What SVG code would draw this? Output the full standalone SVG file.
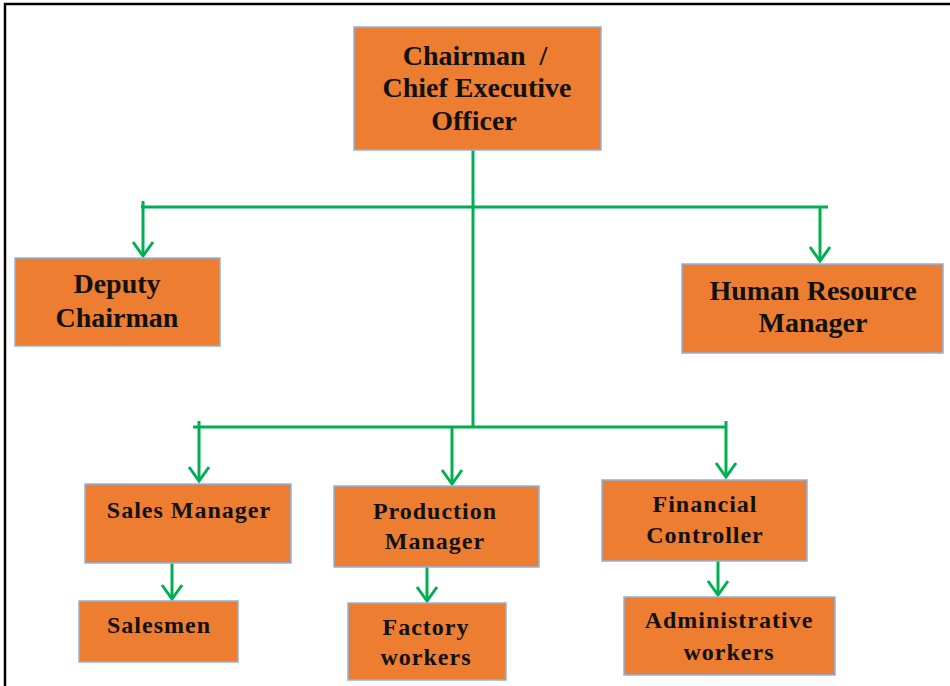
<svg xmlns="http://www.w3.org/2000/svg" width="950" height="686" viewBox="0 0 950 686">
  <style>
    .box { fill: #ED7D31; stroke: #8DB3E2; stroke-width: 1.5; }
    .lbl { font-family: "Liberation Serif", "Times New Roman", serif; font-weight: bold; fill: #111; text-anchor: middle; }
    .big { font-size: 28px; }
    .small { font-size: 24px; letter-spacing: 1px; }
    .wire { fill: none; stroke: #00B050; stroke-width: 3; }
    .frame { fill: none; stroke: #000; stroke-width: 2.5; }
  </style>
  <defs>
    <marker id="chev" markerUnits="userSpaceOnUse" markerWidth="30" markerHeight="30" viewBox="-20 -15 25 30" refX="0" refY="0" orient="auto">
      <path d="M-14,-10 L0,0 L-14,10" fill="none" stroke="#00B050" stroke-width="3"/>
    </marker>
  </defs>

  <!-- page frame -->
  <path class="frame" d="M5,686 V4 H950"/>

  <!-- connectors -->
  <g id="connectors">
    <path class="wire" d="M473,150 V428"/>
    <path class="wire" d="M141,207 H828"/>
    <path class="wire" d="M143,201 V256" marker-end="url(#chev)"/>
    <path class="wire" d="M820,207 V261" marker-end="url(#chev)"/>
    <path class="wire" d="M193,427 H727"/>
    <path class="wire" d="M199,421 V481" marker-end="url(#chev)"/>
    <path class="wire" d="M452,427 V484" marker-end="url(#chev)"/>
    <path class="wire" d="M726,421 V477" marker-end="url(#chev)"/>
    <path class="wire" d="M172,563 V599" marker-end="url(#chev)"/>
    <path class="wire" d="M427,567 V601" marker-end="url(#chev)"/>
    <path class="wire" d="M718,561 V595" marker-end="url(#chev)"/>
  </g>

  <g id="ceo">
    <rect class="box" x="354" y="27" width="247" height="123"/>
    <text class="lbl big" x="475" y="65">Chairman&#160; /</text>
    <text class="lbl big" x="477" y="97">Chief Executive</text>
    <text class="lbl big" x="474" y="130">Officer</text>
  </g>

  <g id="deputy">
    <rect class="box" x="15" y="258" width="205" height="88"/>
    <text class="lbl big" x="117" y="293">Deputy</text>
    <text class="lbl big" x="117" y="327">Chairman</text>
  </g>

  <g id="hr">
    <rect class="box" x="682" y="264" width="261" height="89"/>
    <text class="lbl big" x="813" y="300">Human Resource</text>
    <text class="lbl big" x="813" y="332">Manager</text>
  </g>

  <g id="sales-manager">
    <rect class="box" x="85" y="484" width="206" height="79"/>
    <text class="lbl small" x="189" y="518">Sales Manager</text>
  </g>

  <g id="production-manager">
    <rect class="box" x="334" y="486" width="205" height="81"/>
    <text class="lbl small" x="435" y="519">Production</text>
    <text class="lbl small" x="435" y="549">Manager</text>
  </g>

  <g id="financial-controller">
    <rect class="box" x="602" y="480" width="205" height="81"/>
    <text class="lbl small" x="705" y="512">Financial</text>
    <text class="lbl small" x="705" y="543">Controller</text>
  </g>

  <g id="salesmen">
    <rect class="box" x="79" y="601" width="159" height="61"/>
    <text class="lbl small" x="159" y="633">Salesmen</text>
  </g>

  <g id="factory-workers">
    <rect class="box" x="348" y="603" width="158" height="77"/>
    <text class="lbl small" x="426" y="635">Factory</text>
    <text class="lbl small" x="426" y="665">workers</text>
  </g>

  <g id="admin-workers">
    <rect class="box" x="624" y="597" width="211" height="78"/>
    <text class="lbl small" x="729" y="628">Administrative</text>
    <text class="lbl small" x="729" y="660">workers</text>
  </g>
</svg>
